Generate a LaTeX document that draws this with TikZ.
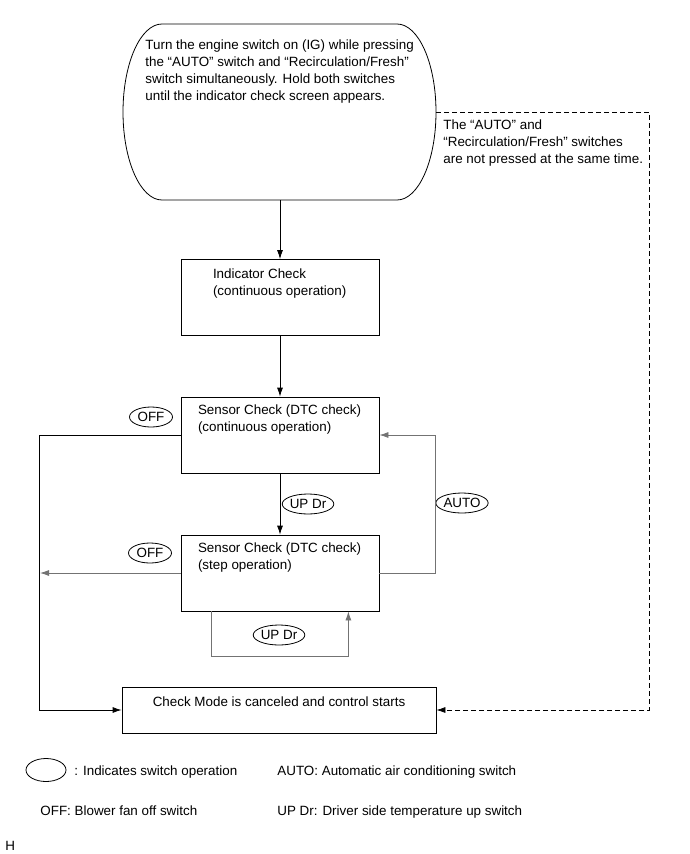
\documentclass[tikz,border=0pt]{standalone}
\usepackage{fontspec}
\setmainfont{Liberation Sans}
\usetikzlibrary{arrows.meta,shapes.geometric}

\begin{document}
\begin{tikzpicture}[x=1pt,y=-1pt,>={Latex[length=9pt,width=6pt]},line width=0.8pt,
    every node/.style={font=\fontsize{13.4}{17}\selectfont,inner sep=0pt},
    box/.style={draw,minimum width=198pt,minimum height=76pt},
    sw/.style={ellipse,draw,minimum width=43pt,minimum height=20pt},
    txt/.style={anchor=north west,align=left},
    gline/.style={draw=black!55}]
            \useasboundingbox (0,0) rectangle (690,854);
            % starting step
            \draw (162,24) -- (397,24) arc[start angle=-90,end angle=90,x radius=39,y radius=88]
                -- (162,200) arc[start angle=90,end angle=270,x radius=39,y radius=88] -- cycle;
            \node[txt] (T0) at (145,39.5) {Turn the engine switch on (IG) while pressing\\the “AUTO” switch and “Recirculation/Fresh”\\switch simultaneously. Hold both switches\\until the indicator check screen appears.};
            \coordinate (S0b) at (280,200);
            \coordinate (S0r) at (436,112);
            \node[txt] (T5) at (443,119) {The “AUTO” and\\“Recirculation/Fresh” switches\\are not pressed at the same time.};
            % boxes
            \node[box] (B1) at (280,297.5) {};
            \node[txt] (T1) at ([xshift=32pt,yshift=-9pt]B1.north west) {Indicator Check\\(continuous operation)};
            \node[box] (B2) at (280,435) {};
            \node[txt] (T2) at ([xshift=17pt,yshift=-8pt]B2.north west) {Sensor Check (DTC check)\\(continuous operation)};
            \node[box] (B3) at (280,573) {};
            \node[txt] (T3) at ([xshift=17pt,yshift=-8pt]B3.north west) {Sensor Check (DTC check)\\(step operation)};
            \node[box,minimum width=314pt,minimum height=46pt] (B4) at (279,710) {};
            \node[anchor=north] (T4) at ([yshift=-10pt]B4.north) {Check Mode is canceled and control starts};
            % switch operations
            \node[sw] (K1) at (151,417) {OFF};
            \node[sw] (K2) at (150,553) {OFF};
            \node[sw] (K3) at (308,504) {UP Dr};
            \node[sw] (K4) at (462,503) {AUTO};
            \node[sw] (K5) at (279,635) {UP Dr};
            % connectors
            \draw[->] (S0b) -- (B1);
            \draw[->] (B1) -- (B2);
            \draw[->] (B2) -- (B3);
            \draw[->] (B2.west) -- ++(-141,0) |- (B4.west);
            \coordinate (L1) at (40,573);
            \draw[gline,->] (B3.west) -- (L1);
            \draw[gline,->] (B3.east) -- ++(56,0) |- (B2.east);
            \draw[gline,->] ([xshift=31pt]B3.south west) -- ++(0,45) -| ([xshift=-31pt]B3.south east);
            \draw[dash pattern=on 5pt off 3pt,line width=0.7pt,->] (S0r) -- (649,112) |- (B4.east);
            % legend
            \node[sw,minimum width=40pt,minimum height=23pt] (K6) at (46,770) {};
            \node[anchor=base west] (N1) at (74,775) {: Indicates switch operation};
            \node[anchor=base west] (N2) at (277,775) {AUTO: Automatic air conditioning switch};
            \node[anchor=base west] (N3) at (40,815) {OFF: Blower fan off switch};
            \node[anchor=base west] (N4) at (277,815) {UP Dr: Driver side temperature up switch};
            \node[anchor=base west] (N5) at (5,850) {H};
        \end{tikzpicture}
\end{document}
